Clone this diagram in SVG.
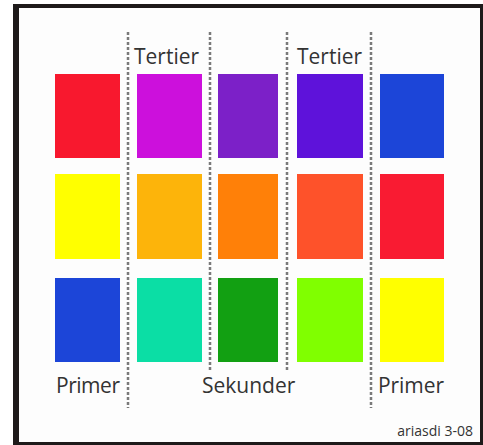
<svg xmlns="http://www.w3.org/2000/svg" width="483" height="445" viewBox="0 0 483 445">
<style>
.lbl{font-family:"Open Sans","Noto Sans",sans-serif;font-size:21px;fill:#333333}
.small{font-family:"Open Sans","Noto Sans",sans-serif;font-size:14px;fill:#333333}
.div{stroke:#7a7a7a;stroke-width:2.5;stroke-dasharray:3 2;fill:none}
</style>
<rect x="0" y="0" width="483" height="445" fill="#ffffff"/>
<g id="frame">
<rect x="13" y="4" width="470" height="441" fill="#1e1a1a"/>
<rect x="19" y="8" width="461" height="434" fill="#fdfdfd"/>
</g>
<g id="connectors">
<line class="div" x1="128" y1="32" x2="128" y2="408"/>
<line class="div" x1="210" y1="32" x2="210" y2="372"/>
<line class="div" x1="287" y1="32" x2="287" y2="372"/>
<line class="div" x1="371" y1="32" x2="371" y2="408"/>
</g>
<g id="row1">
<rect id="r1c1" x="55" y="74" width="65" height="84" fill="#f8182e"/>
<rect id="r1c2" x="137" y="74" width="65" height="84" fill="#cc10dc"/>
<rect id="r1c3" x="218" y="74" width="60" height="84" fill="#7c20c8"/>
<rect id="r1c4" x="297" y="74" width="66" height="84" fill="#5e12da"/>
<rect id="r1c5" x="380" y="74" width="64" height="84" fill="#1c45d8"/>
</g>
<g id="row2">
<rect id="r2c1" x="55" y="174" width="65" height="85" fill="#ffff00"/>
<rect id="r2c2" x="137" y="174" width="65" height="85" fill="#fdb40a"/>
<rect id="r2c3" x="218" y="174" width="60" height="85" fill="#ff8008"/>
<rect id="r2c4" x="297" y="174" width="66" height="85" fill="#fe522a"/>
<rect id="r2c5" x="380" y="174" width="64" height="85" fill="#f91b32"/>
</g>
<g id="row3">
<rect id="r3c1" x="55" y="278" width="65" height="84" fill="#1c45d8"/>
<rect id="r3c2" x="137" y="278" width="65" height="84" fill="#0bdea5"/>
<rect id="r3c3" x="218" y="278" width="60" height="84" fill="#12a012"/>
<rect id="r3c4" x="297" y="278" width="66" height="84" fill="#80ff00"/>
<rect id="r3c5" x="380" y="278" width="64" height="84" fill="#ffff00"/>
</g>
<g id="labels">
<text id="t1" class="lbl" x="134" y="64">Tertier</text>
<text id="t2" class="lbl" x="297" y="64">Tertier</text>
<text id="p1" class="lbl" x="56" y="393" textLength="64">Primer</text>
<text id="s1" class="lbl" x="202" y="393">Sekunder</text>
<text id="p2" class="lbl" x="378" y="393" textLength="66">Primer</text>
<text id="credit" class="small" x="473" y="436" text-anchor="end">ariasdi 3-08</text>
</g>
</svg>
